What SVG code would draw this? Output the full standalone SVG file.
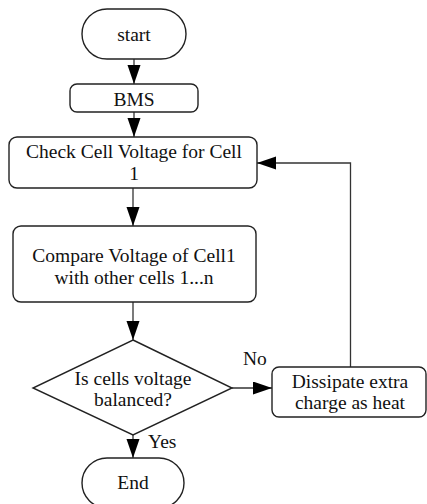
<svg xmlns="http://www.w3.org/2000/svg" width="427" height="504" viewBox="0 0 427 504">
<style>
.n{fill:#fff;stroke:#222;stroke-width:1.4}
.t{font-family:"Liberation Serif","Times New Roman",serif;font-size:19.5px;fill:#111;text-anchor:middle}
.l{font-family:"Liberation Serif","Times New Roman",serif;font-size:19.5px;fill:#111}
.c{fill:none;stroke:#333;stroke-width:1.3}
</style>
<defs>
<marker id="ah" markerUnits="userSpaceOnUse" markerWidth="20" markerHeight="14" refX="19" refY="6.5" orient="auto">
<path d="M0,0 L19,6.5 L0,13 Z" fill="#000"/>
</marker>
</defs>
<g id="connectors">
<line class="c" x1="134" y1="59" x2="134" y2="84" marker-end="url(#ah)"/>
<line class="c" x1="134" y1="112" x2="134" y2="137" marker-end="url(#ah)"/>
<line class="c" x1="133" y1="188" x2="133" y2="226" marker-end="url(#ah)"/>
<line class="c" x1="133" y1="302" x2="133" y2="340" marker-end="url(#ah)"/>
<line class="c" x1="232" y1="388" x2="272" y2="388" marker-end="url(#ah)"/>
<polyline class="c" points="350.5,367 350.5,163 257,163" marker-end="url(#ah)"/>
<line class="c" x1="133" y1="435" x2="133" y2="458" marker-end="url(#ah)"/>
<text class="l" x="243" y="365">No</text>
<text class="l" x="148" y="448">Yes</text>
</g>
<g id="start">
<rect class="n" x="82" y="9" width="104" height="50" rx="25"/>
<text class="t" x="134" y="41">start</text>
</g>
<g id="bms">
<rect class="n" x="70" y="84" width="128" height="28" rx="7"/>
<text class="t" x="134" y="106">BMS</text>
</g>
<g id="check">
<rect class="n" x="9" y="137" width="248" height="51" rx="8"/>
<text class="t" x="134" y="158">Check Cell Voltage for Cell</text>
<text class="t" x="134" y="180">1</text>
</g>
<g id="compare">
<rect class="n" x="13" y="226" width="243" height="76" rx="8"/>
<text class="t" x="134" y="262">Compare Voltage of Cell1</text>
<text class="t" x="134" y="284">with other cells 1...n</text>
</g>
<g id="decision">
<polygon class="n" points="133,340 232,388 133,435 33,388"/>
<text class="t" x="133" y="385">Is cells voltage</text>
<text class="t" x="133" y="406">balanced?</text>
</g>
<g id="dissipate">
<rect class="n" x="272" y="367" width="154" height="50" rx="7"/>
<text class="t" x="350" y="388">Dissipate extra</text>
<text class="t" x="350" y="409">charge as heat</text>
</g>
<g id="end">
<rect class="n" x="82" y="458" width="102" height="50" rx="25"/>
<text class="t" x="133" y="489">End</text>
</g>
</svg>
